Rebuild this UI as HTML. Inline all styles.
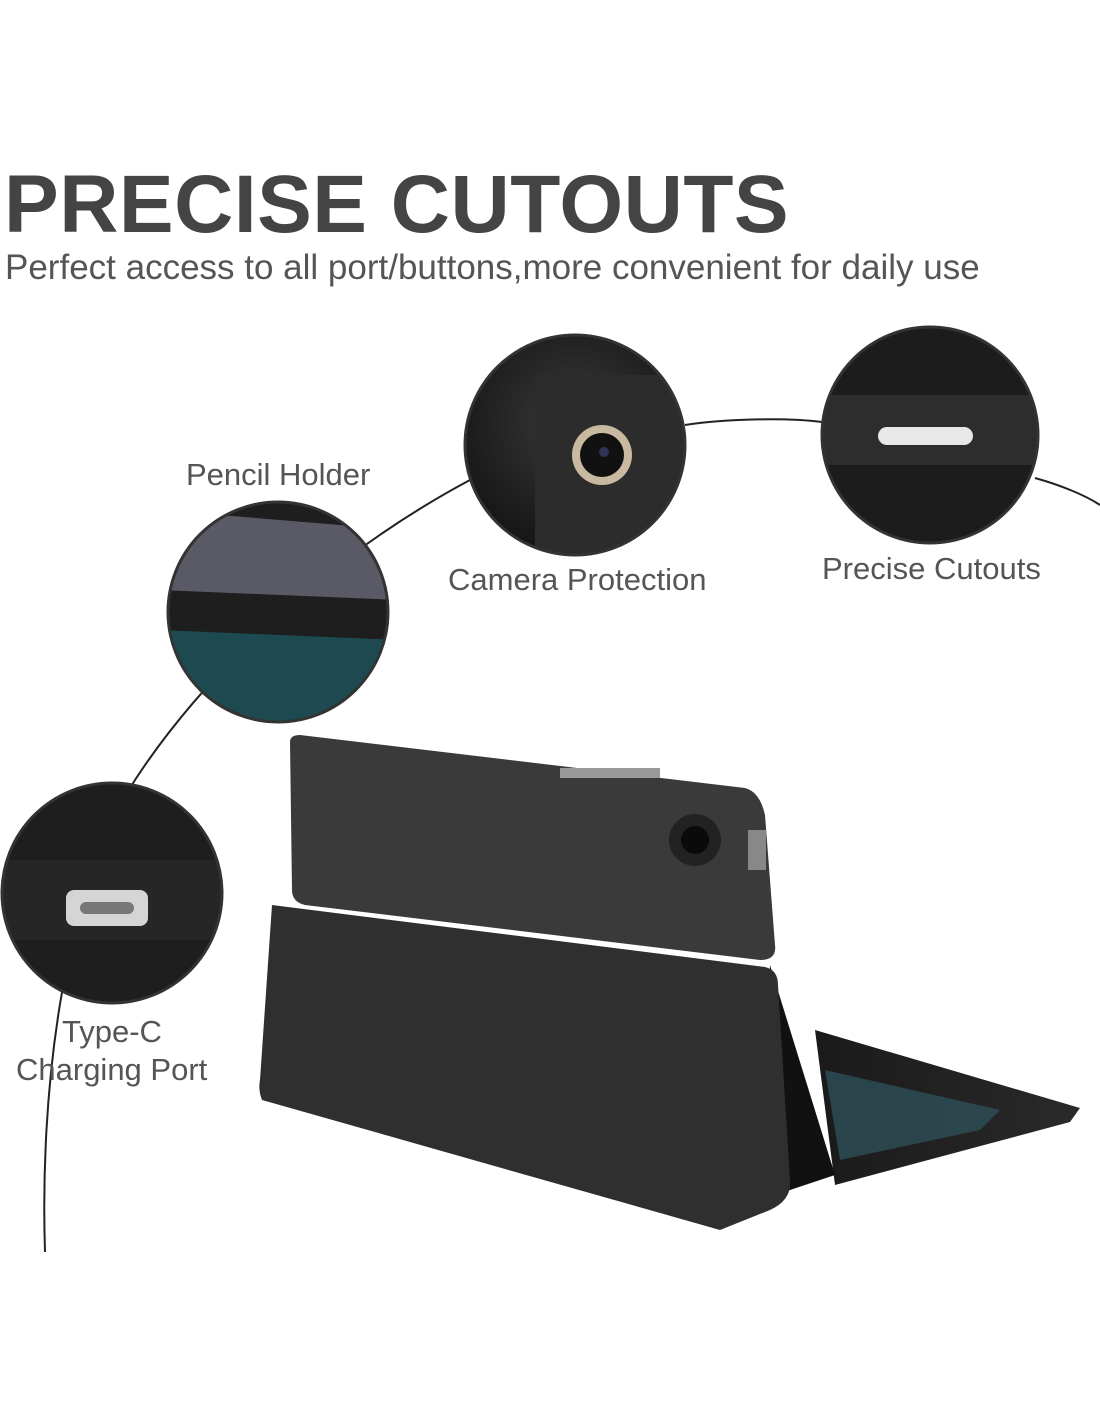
<!DOCTYPE html>
<html><head><meta charset="utf-8"><style>
html,body{margin:0;padding:0;background:#fff;}
body{width:1100px;height:1422px;position:relative;overflow:hidden;font-family:"Liberation Sans",sans-serif;}
.t{position:absolute;white-space:nowrap;}
</style></head><body>
<div class="t" style="left:4px;top:158px;font-size:82px;font-weight:bold;color:#444;letter-spacing:0.5px;">PRECISE CUTOUTS</div>
<div class="t" style="left:5px;top:248px;font-size:35px;color:#555;">Perfect access to all port/buttons,more convenient for daily use</div>

<svg width="1100" height="1422" style="position:absolute;left:0;top:0">
<defs>
<radialGradient id="g1" cx="50%" cy="40%" r="60%"><stop offset="0" stop-color="#3a3a3a"/><stop offset="1" stop-color="#151515"/></radialGradient>
<linearGradient id="kb" x1="0" x2="1"><stop offset="0" stop-color="#1a1a1a"/><stop offset="1" stop-color="#2a2a2a"/></linearGradient>
<clipPath id="c1"><circle cx="575" cy="445" r="109"/></clipPath>
<clipPath id="c2"><circle cx="930" cy="435" r="107"/></clipPath>
<clipPath id="c3"><circle cx="278" cy="612" r="109"/></clipPath>
<clipPath id="c4"><circle cx="112" cy="893" r="109"/></clipPath>
</defs>
<path d="M45,1252 C40,1100 60,900 135,780 C200,680 320,560 470,480" fill="none" stroke="#222" stroke-width="2"/>
<path d="M685,425 C730,418 790,418 822,422" fill="none" stroke="#222" stroke-width="2"/>
<path d="M1035,478 C1060,485 1085,495 1100,505" fill="none" stroke="#222" stroke-width="2"/>

<circle cx="575" cy="445" r="110" fill="url(#g1)"/>
<g clip-path="url(#c1)">
<path d="M535,375 L700,375 L700,560 L535,560 Z" fill="#2c2c2c"/>
<circle cx="602" cy="455" r="30" fill="#c9b9a0"/><circle cx="602" cy="455" r="22" fill="#111"/><circle cx="604" cy="452" r="5" fill="#335"/>
</g>
<circle cx="575" cy="445" r="110" fill="none" stroke="#333" stroke-width="3"/>

<circle cx="930" cy="435" r="108" fill="#1c1c1c"/>
<g clip-path="url(#c2)">
<rect x="815" y="395" width="230" height="70" fill="#2d2d2d"/>
<rect x="878" y="427" width="95" height="18" rx="9" fill="#e8e8e8"/>
</g>
<circle cx="930" cy="435" r="108" fill="none" stroke="#333" stroke-width="3"/>

<circle cx="278" cy="612" r="110" fill="#1e1e1e"/>
<g clip-path="url(#c3)">
<path d="M160,510 L400,530 L400,600 L160,590 Z" fill="#5a5a66"/>
<path d="M160,630 L400,640 L400,730 L160,730 Z" fill="#1d4a50"/>
</g>
<circle cx="278" cy="612" r="110" fill="none" stroke="#333" stroke-width="3"/>

<circle cx="112" cy="893" r="110" fill="#1e1e1e"/>
<g clip-path="url(#c4)">
<rect x="0" y="860" width="230" height="80" fill="#262626"/>
<rect x="66" y="890" width="82" height="36" rx="8" fill="#d5d5d5"/>
<rect x="80" y="902" width="54" height="12" rx="6" fill="#777"/>
</g>
<circle cx="112" cy="893" r="110" fill="none" stroke="#333" stroke-width="3"/>

<path d="M815,1030 L1080,1108 L1070,1122 L835,1185 Z" fill="url(#kb)"/>
<path d="M825,1070 L1000,1110 L980,1130 L840,1160 Z" fill="#2f5560" opacity="0.7"/>
<path d="M290,742 Q290,735 300,735 L745,788 Q760,792 765,815 L775,945 Q777,960 760,960 L305,905 Q292,902 292,890 Z" fill="#3a3a3a"/>
<path d="M770,965 L835,1175 L760,1200 Z" fill="#111"/>
<path d="M272,905 L765,967 Q778,970 778,985 L790,1180 Q792,1200 770,1210 L720,1230 L262,1100 Q258,1090 260,1080 Z" fill="#2f2f2f"/>
<circle cx="695" cy="840" r="26" fill="#222"/><circle cx="695" cy="840" r="14" fill="#0a0a0a"/>
<rect x="560" y="768" width="100" height="10" fill="#999"/>
<rect x="748" y="830" width="18" height="40" fill="#888"/>
</svg>

<div class="t" style="left:186px;top:457px;font-size:31px;color:#555;">Pencil Holder</div>
<div class="t" style="left:448px;top:562px;font-size:31px;color:#555;">Camera Protection</div>
<div class="t" style="left:822px;top:551px;font-size:31px;color:#555;">Precise Cutouts</div>
<div class="t" style="left:62px;top:1014px;font-size:31px;color:#555;">Type-C</div>
<div class="t" style="left:16px;top:1052px;font-size:31px;color:#555;">Charging Port</div>
</body></html>
